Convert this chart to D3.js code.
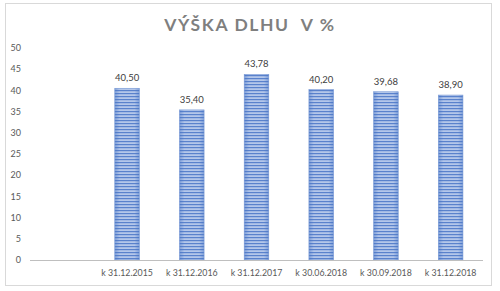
<!DOCTYPE html>
<html><head><meta charset="utf-8">
<script src="https://cdnjs.cloudflare.com/ajax/libs/d3/7.8.5/d3.min.js"></script>
<style>body{margin:0;background:#fff}svg{display:block}</style>
</head><body>
<script>
const categories = ["", "k 31.12.2015", "k 31.12.2016", "k 31.12.2017", "k 30.06.2018", "k 30.09.2018", "k 31.12.2018"];
const values = [null, 40.50, 35.40, 43.78, 40.20, 39.68, 38.90];
const yTicks = [0, 5, 10, 15, 20, 25, 30, 35, 40, 45, 50];
const title = "VÝŠKA DLHU  V %";

const W = 500, H = 291;
const svg = d3.select("body").append("svg").attr("width", W).attr("height", H);

svg.append("rect").attr("x", 5.5).attr("y", 3.5).attr("width", 486).attr("height", 282)
  .attr("fill", "#fff").attr("stroke", "#d9d9d9");

const defs = svg.append("defs");
const pat = defs.append("pattern").attr("id", "stripes").attr("patternUnits", "userSpaceOnUse")
  .attr("width", 4).attr("height", 3);
pat.append("rect").attr("width", 4).attr("height", 3).attr("fill", "#b4c7ea");
pat.append("rect").attr("y", 0).attr("width", 4).attr("height", 1.2).attr("fill", "#5a82cc");
const grad = defs.append("linearGradient").attr("id", "edge").attr("x1", 0).attr("x2", 1);
grad.append("stop").attr("offset", "0").attr("stop-color", "#4472c4").attr("stop-opacity", 0.45);
grad.append("stop").attr("offset", "0.2").attr("stop-color", "#4472c4").attr("stop-opacity", 0);
grad.append("stop").attr("offset", "0.8").attr("stop-color", "#4472c4").attr("stop-opacity", 0);
grad.append("stop").attr("offset", "1").attr("stop-color", "#4472c4").attr("stop-opacity", 0.45);

const x = d3.scaleBand().domain(categories).range([30, 483]).paddingInner(0.62).paddingOuter(0.31);
const y = d3.scaleLinear().domain([0, 50]).range([260, 48]);

// y tick labels
svg.append("g").selectAll("text").data(yTicks).join("text")
  .attr("x", 21).attr("y", d => y(d)).attr("dy", "0.35em").attr("text-anchor", "end")
  .attr("font-family", "Lato, 'Open Sans', sans-serif").attr("font-size", 9).attr("fill", "#595959")
  .text(d => d);

const data = categories.map((c, i) => ({c, v: values[i]})).filter(d => d.v != null);

const bars = svg.append("g");
bars.selectAll("rect.b").data(data).join("rect").attr("class", "b")
  .attr("x", d => x(d.c)).attr("width", x.bandwidth())
  .attr("y", d => y(d.v)).attr("height", d => y(0) - y(d.v))
  .attr("fill", "url(#stripes)");
bars.selectAll("rect.e").data(data).join("rect").attr("class", "e")
  .attr("x", d => x(d.c)).attr("width", x.bandwidth())
  .attr("y", d => y(d.v)).attr("height", d => y(0) - y(d.v))
  .attr("fill", "url(#edge)").attr("stroke", "#7b9bd6").attr("stroke-width", 0.6);

// value labels
svg.append("g").selectAll("text").data(data).join("text")
  .attr("x", d => x(d.c) + x.bandwidth() / 2).attr("y", d => y(d.v) - 7)
  .attr("text-anchor", "middle")
  .attr("font-family", "Lato, 'Open Sans', sans-serif").attr("font-size", 9.5).attr("fill", "#404040")
  .text(d => d.v.toFixed(2).replace(".", ","));

// x axis line
svg.append("line").attr("x1", 30).attr("x2", 483).attr("y1", y(0) + 0.5).attr("y2", y(0) + 0.5)
  .attr("stroke", "#bfbfbf").attr("stroke-width", 1);

// x labels
svg.append("g").selectAll("text").data(categories).join("text")
  .attr("x", d => x(d) + x.bandwidth() / 2).attr("y", 273).attr("dy", "0.35em")
  .attr("text-anchor", "middle")
  .attr("font-family", "Lato, 'Open Sans', sans-serif").attr("font-size", 8.8).attr("fill", "#595959")
  .text(d => d);

// title
svg.append("text").attr("x", 250).attr("y", 31).attr("text-anchor", "middle")
  .attr("font-family", "Lato, 'Open Sans', sans-serif").attr("font-weight", "bold")
  .attr("font-size", 17.5).attr("letter-spacing", 1.6).attr("fill", "#7f7f7f")
  .attr("xml:space", "preserve").style("white-space", "pre")
  .text(title);
</script>
</body></html>
